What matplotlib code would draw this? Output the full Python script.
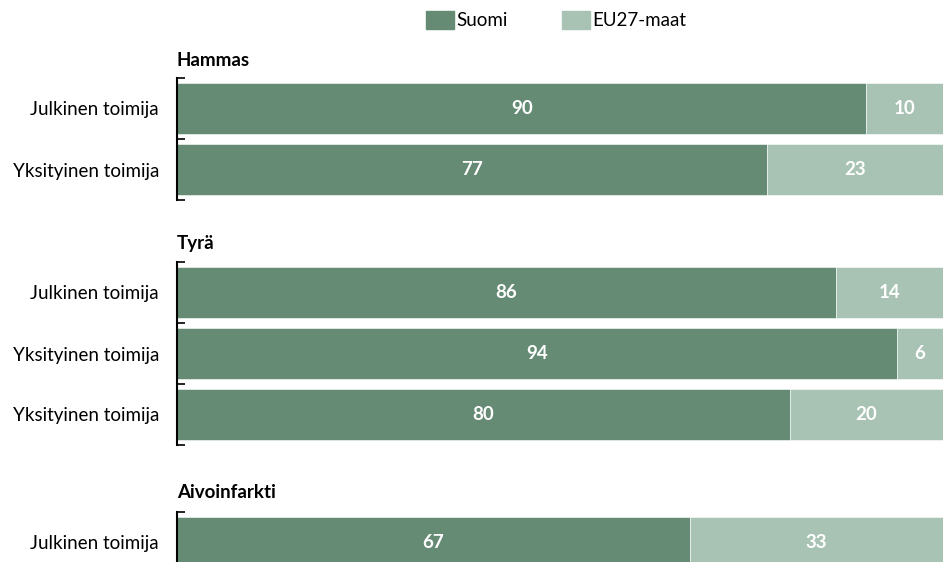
import matplotlib.pyplot as plt
from matplotlib.patches import Patch

# osuudet prosentteina, ryhmittäin
ryhmat = ["Hammas", "Tyrä", "Aivoinfarkti"]
rivit = [
    ["Julkinen toimija", "Yksityinen toimija"],
    ["Julkinen toimija", "Yksityinen toimija", "Yksityinen toimija"],
    ["Julkinen toimija"],
]
suomi = [[90, 77], [86, 94, 80], [67]]
eu27 = [[10, 23], [14, 6, 20], [33]]

tumma = "#658b74"
vaalea = "#a8c3b4"

plt.rcParams["font.family"] = ["Lato", "DejaVu Sans"]
fs = 13.5

W, H = 943, 562
fig = plt.figure(figsize=(W / 100, H / 100), dpi=100)

# akselien paikat pikseleinä: yläreuna, alareuna
paikat = [(78, 200), (262, 445), (512, 573)]
otsikko_y = [60, 244, 493]
x0, x1 = 177, 943

for i in range(3):
    top, bot = paikat[i]
    ax = fig.add_axes([x0 / W, (H - bot) / H, (x1 - x0) / W, (bot - top) / H])
    n = len(rivit[i])
    y = list(range(n))
    ax.barh(y, suomi[i], height=0.83, color=tumma, edgecolor="white", linewidth=0.4)
    ax.barh(y, eu27[i], left=suomi[i], height=0.83, color=vaalea, edgecolor="white", linewidth=0.4)
    for j in range(n):
        ax.text(suomi[i][j] / 2, j, str(suomi[i][j]), ha="center", va="center",
                color="white", fontsize=fs, fontweight="bold")
        ax.text(suomi[i][j] + eu27[i][j] / 2, j, str(eu27[i][j]), ha="center", va="center",
                color="white", fontsize=fs, fontweight="bold")
    ax.set_xlim(0, 100)
    ax.set_ylim(n - 0.5, -0.5)
    ax.set_yticks(y)
    ax.set_yticklabels(rivit[i], fontsize=fs)
    ax.tick_params(axis="y", which="major", length=0, pad=13)
    ax.set_yticks([k - 0.5 for k in range(n + 1)], minor=True)
    ax.tick_params(axis="y", which="minor", direction="in", length=6, width=1.2)
    ax.set_xticks([])
    for s in ["top", "right", "bottom"]:
        ax.spines[s].set_visible(False)
    ax.spines["left"].set_linewidth(1.5)
    fig.text(x0 / W, 1 - otsikko_y[i] / H, ryhmat[i], ha="left", va="center",
             fontsize=fs, fontweight="bold")

handles = [Patch(color=tumma, label="Suomi"), Patch(color=vaalea, label="EU27-maat")]
fig.legend(handles=handles, loc="center", bbox_to_anchor=(556 / W, 1 - 20 / H), ncol=2,
           frameon=False, fontsize=fs, handlelength=1.5, handleheight=1.1,
           handletextpad=0.1, columnspacing=2.9)

fig.savefig("out.png", dpi=100)
